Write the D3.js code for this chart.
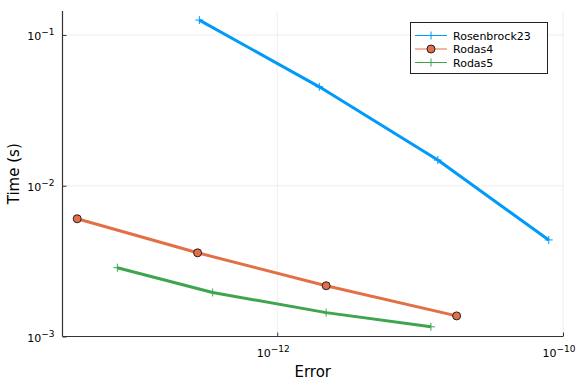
<!DOCTYPE html>
<html lang="en">
<head>
	<meta charset="UTF-8">
	<title>work-precision</title>
	<script src="https://cdn.jsdelivr.net/npm/d3@7"></script>
	<style>
		body { margin: 0; background: #fff; }
		text { font-family: "DejaVu Sans", sans-serif; }
	</style>
</head>
<body>
	<script>

		// series values (error, time)
		var names = ['Rosenbrock23', 'Rodas4', 'Rodas5'];
		var colors = ['#009afa', '#e36f47', '#3ea44e'];
		var rosenErr = [2.85e-13, 1.97e-12, 1.33e-11, 7.95e-11];
		var rosenTime = [0.1255, 0.0453, 0.0148, 0.00437];
		var rodas4Err = [3.98e-14, 2.77e-13, 2.2e-12, 1.8e-11];
		var rodas4Time = [0.00604, 0.00359, 0.00217, 0.00137];
		var rodas5Err = [7.6e-14, 3.53e-13, 2.2e-12, 1.19e-11];
		var rodas5Time = [0.00286, 0.00196, 0.00144, 0.00116];
		var xTicks = [1e-12, 1e-10];
		var xTickExp = ['−12', '−10'];
		var yTicks = [1e-1, 1e-2, 1e-3];
		var yTickExp = ['−1', '−2', '−3'];

		var W = 576, H = 384;
		var pLeft = 62.5, pRight = 563, pTop = 11, pBottom = 336.5;

		var svg = d3.select("body").append("svg").attr("width", W).attr("height", H);

		var x = d3.scaleLog().domain([Math.pow(10, -13.503), 1e-10]).range([pLeft, pRight]);
		var y = d3.scaleLog().domain([1e-3, Math.pow(10, -0.841)]).range([pBottom, pTop]);

		// grid
		svg.selectAll(".gx").data(xTicks).enter().append("line")
			.attr("x1", d => x(d)).attr("x2", d => x(d)).attr("y1", pTop).attr("y2", pBottom)
			.attr("stroke", "#000").attr("stroke-opacity", 0.07).attr("stroke-width", 1);
		svg.selectAll(".gy").data(yTicks).enter().append("line")
			.attr("x1", pLeft).attr("x2", pRight).attr("y1", d => y(d)).attr("y2", d => y(d))
			.attr("stroke", "#000").attr("stroke-opacity", 0.07).attr("stroke-width", 1);

		// axes
		var xAxis = svg.append("g").attr("transform", "translate(0," + pBottom + ")")
			.call(d3.axisBottom(x).tickValues(xTicks).tickSize(-4).tickFormat(""));
		var yAxis = svg.append("g").attr("transform", "translate(" + pLeft + ",0)")
			.call(d3.axisLeft(y).tickValues(yTicks).tickSize(-4).tickFormat(""));
		xAxis.select(".domain").attr("d", "M" + pLeft + ",0H" + pRight);
		yAxis.select(".domain").attr("d", "M0," + pTop + "V" + pBottom);
		svg.selectAll(".domain").attr("stroke", "#333").attr("stroke-width", 1.2);
		svg.selectAll(".tick line").attr("stroke", "#333");

		xTicks.forEach(function (t, i) {
			var lab = svg.append("text").attr("x", x(t) - 4).attr("y", pBottom + 20)
				.attr("text-anchor", "middle").attr("font-size", 11).attr("fill", "#000");
			lab.append("tspan").text("10");
			lab.append("tspan").attr("dy", -5).attr("font-size", 9).text(xTickExp[i]);
		});
		yTicks.forEach(function (t, i) {
			var lab = svg.append("text").attr("x", pLeft - 8).attr("y", y(t) + 5.5)
				.attr("text-anchor", "end").attr("font-size", 11).attr("fill", "#000");
			lab.append("tspan").text("10");
			lab.append("tspan").attr("dy", -5).attr("font-size", 9).text(yTickExp[i]);
		});

		svg.append("text").attr("x", (pLeft + pRight) / 2).attr("y", 377)
			.attr("text-anchor", "middle").attr("font-size", 15).text("Error");
		svg.append("text").attr("transform", "translate(19," + ((pTop + pBottom) / 2) + ") rotate(-90)")
			.attr("text-anchor", "middle").attr("font-size", 15).text("Time (s)");

		// series
		var series = [
			{ name: names[0], err: rosenErr, time: rosenTime, marker: 'plus' },
			{ name: names[1], err: rodas4Err, time: rodas4Time, marker: 'circle' },
			{ name: names[2], err: rodas5Err, time: rodas5Time, marker: 'plus' }
		];
		var line = d3.line().x(d => x(d[0])).y(d => y(d[1]));

		function marker(g, cx, cy, type, col) {
			if (type == 'circle') {
				g.append("circle").attr("cx", cx).attr("cy", cy).attr("r", 4)
					.attr("fill", col).attr("stroke", "#222").attr("stroke-width", 1);
			} else {
				g.append("path").attr("d", "M" + (cx - 4) + "," + cy + "h8M" + cx + "," + (cy - 4) + "v8")
					.attr("stroke", col).attr("stroke-width", 1);
			}
		}

		series.forEach(function (s, i) {
			var pts = s.err.map((e, k) => [e, s.time[k]]);
			svg.append("path").datum(pts).attr("d", line).attr("fill", "none")
				.attr("stroke", colors[i]).attr("stroke-width", 3).attr("stroke-linejoin", "round");
			var g = svg.append("g");
			pts.forEach(p => marker(g, x(p[0]), y(p[1]), s.marker, colors[i]));
		});

		// legend
		var lg = svg.append("g");
		lg.append("rect").attr("x", 410.5).attr("y", 22.5).attr("width", 137).attr("height", 51)
			.attr("fill", "#fff").attr("stroke", "#222").attr("stroke-width", 1);
		series.forEach(function (s, i) {
			var ly = 35.5 + i * 13.5;
			lg.append("line").attr("x1", 415).attr("x2", 447).attr("y1", ly).attr("y2", ly)
				.attr("stroke", colors[i]).attr("stroke-width", 1);
			marker(lg, 431, ly, s.marker, colors[i]);
			lg.append("text").attr("x", 453).attr("y", ly + 4).attr("font-size", 11).text(s.name);
		});

	</script>
</body>
</html>
